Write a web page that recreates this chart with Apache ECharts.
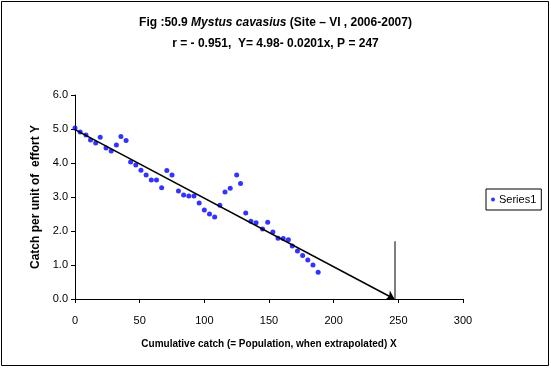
<!DOCTYPE html>
<html>
<head>
<meta charset="utf-8">
<script src="https://cdn.jsdelivr.net/npm/echarts@6/dist/echarts.min.js"></script>
<style>
  html, body { margin: 0; padding: 0; background: #fff; }
  #chart { width: 551px; height: 368px; }
</style>
</head>
<body>
<div id="chart"></div>
<script>
// cumulative catch (x) and catch per unit effort (y)
var cumCatch = [0, 4, 8.5, 12, 16, 19.5, 24, 28, 32, 35.5, 39.5, 43, 47, 51, 55, 59, 63, 67, 71, 75,
  80, 84, 88, 92, 96, 100, 104, 108, 112, 116, 120, 125, 128, 132, 136, 140, 145, 149, 153, 157,
  161, 165, 168, 172, 176, 180, 184, 188];
var cpue = [5.03, 4.91, 4.82, 4.68, 4.59, 4.76, 4.44, 4.35, 4.53, 4.78, 4.66, 4.03, 3.94, 3.79, 3.65, 3.5, 3.5, 3.27, 3.78, 3.65,
  3.18, 3.06, 3.03, 3.03, 2.82, 2.62, 2.5, 2.41, 2.76, 3.15, 3.26, 3.65, 3.4, 2.53, 2.29, 2.24, 2.06, 2.26, 1.97, 1.79,
  1.78, 1.74, 1.56, 1.41, 1.28, 1.15, 1.0, 0.79];

// regression: Y = 4.98 - 0.0201x, extrapolated population P = 247
var intercept = 4.98;
var P = 247;
var markerTop = 1.7;

var xTicks = [0, 50, 100, 150, 200, 250, 300];

var points = cumCatch.map(function (x, i) { return [x, cpue[i]]; });

var chart = echarts.init(document.getElementById('chart'));
chart.setOption({
  backgroundColor: '#fff',
  animation: false,
  textStyle: { fontFamily: 'Liberation Sans, Arial, sans-serif' },
  title: {
    left: 'center',
    top: 12,
    itemGap: 9,
    text: 'Fig :50.9 {i|Mystus cavasius} (Site – VI , 2006-2007)',
    subtext: 'r = - 0.951,  Y= 4.98- 0.0201x, P = 247',
    textStyle: {
      fontSize: 12, fontWeight: 'bold', color: '#000',
      rich: { i: { fontSize: 12, fontWeight: 'bold', fontStyle: 'italic', color: '#000' } }
    },
    subtextStyle: { fontSize: 12, fontWeight: 'bold', color: '#000' }
  },
  graphic: [{
    type: 'rect',
    shape: { x: 1.5, y: 1.5, width: 547, height: 364 },
    style: { fill: null, stroke: '#000', lineWidth: 1 }
  }],
  legend: {
    data: ['Series1'],
    left: 486,
    top: 189,
    orient: 'vertical',
    icon: 'circle',
    itemWidth: 4,
    itemHeight: 4,
    itemGap: 4,
    padding: [5, 5, 5, 5],
    borderColor: '#000',
    borderWidth: 1,
    textStyle: { fontSize: 11, color: '#000', padding: [0, 0, 0, -1] }
  },
  grid: { left: 75, right: 88, top: 95, bottom: 69, containLabel: false },
  xAxis: {
    type: 'value',
    min: 0, max: 300, interval: 50,
    name: 'Cumulative catch (= Population, when extrapolated) X',
    nameLocation: 'middle',
    nameGap: 40,
    nameTextStyle: { fontSize: 10, fontWeight: 'bold', color: '#000' },
    axisLine: { show: true, onZero: false, lineStyle: { color: '#000', width: 1 } },
    axisTick: { show: true, length: 4, lineStyle: { color: '#000' } },
    axisLabel: { fontSize: 11, color: '#000', margin: 16,
      formatter: function (v) { return xTicks.indexOf(v) >= 0 ? String(v) : ''; } },
    splitLine: { show: false }
  },
  yAxis: {
    type: 'value',
    min: 0, max: 6, interval: 1,
    name: 'Catch per unit of  effort Y',
    nameLocation: 'middle',
    nameGap: 32,
    nameTextStyle: { fontSize: 12, fontWeight: 'bold', color: '#000' },
    axisLine: { show: true, lineStyle: { color: '#000', width: 1 } },
    axisTick: { show: true, length: 4, lineStyle: { color: '#000' } },
    axisLabel: { fontSize: 11, color: '#000', margin: 7,
      formatter: function (v) { return v.toFixed(1); } },
    splitLine: { show: false }
  },
  series: [
    {
      name: 'Series1',
      type: 'scatter',
      symbol: 'circle',
      symbolSize: 5,
      itemStyle: { color: '#0000ff' },
      data: points,
      z: 3
    },
    {
      name: 'fit',
      type: 'lines',
      coordinateSystem: 'cartesian2d',
      symbol: ['none', 'arrow'],
      symbolSize: 8,
      lineStyle: { color: '#000', width: 1.5, opacity: 1 },
      data: [{ coords: [[0, intercept], [P, 0]] }],
      z: 4
    },
    {
      name: 'P',
      type: 'lines',
      coordinateSystem: 'cartesian2d',
      lineStyle: { color: '#555', width: 1.5, opacity: 1 },
      data: [{ coords: [[P, 0], [P, markerTop]] }],
      z: 4
    }
  ]
});
</script>
</body>
</html>
